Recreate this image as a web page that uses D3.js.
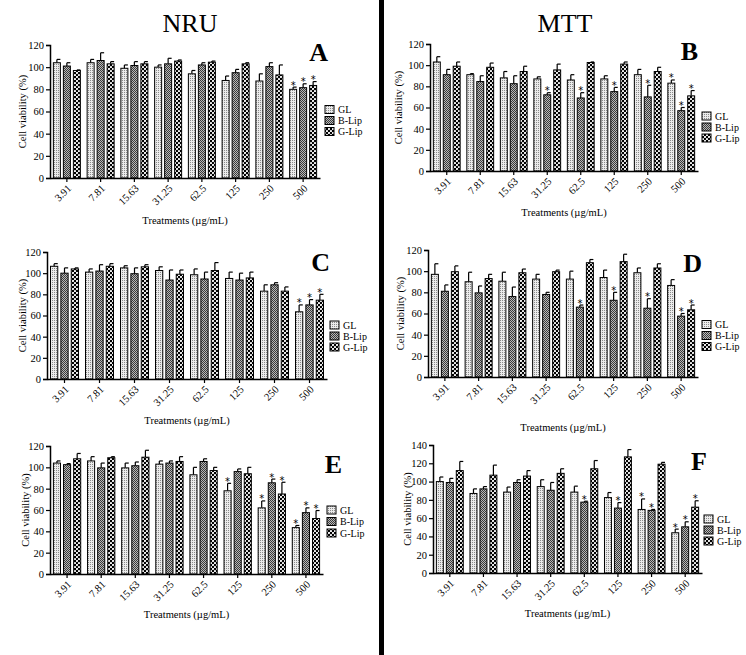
<!DOCTYPE html>
<html>
<head>
<meta charset="utf-8">
<script src="https://cdn.jsdelivr.net/npm/d3@7"></script>
<style>
  body { margin: 0; background: #fff; }
  svg text { font-family: "Liberation Serif", "DejaVu Serif", serif; fill: #000; }
</style>
</head>
<body>
<div id="chart"></div>
<script>
// categories & series
var doses = ["3.91", "7.81", "15.63", "31.25", "62.5", "125", "250", "500"];
var series = ["GL", "B-Lip", "G-Lip"];

// Panel A (NRU)  rows: GL, B-Lip, G-Lip
var aMean = [[104, 104, 99, 100, 94, 88, 87.5, 80],
             [101, 106, 101.5, 103, 102, 95, 100.5, 81.5],
             [97, 103, 103, 105.5, 104.5, 103, 93, 83.5]];
var aErr  = [[3, 3, 3, 2, 3, 4, 6.5, 2],
             [3, 7, 3.5, 5, 2, 3, 3.5, 3.5],
             [0.5, 2, 2, 1, 1, 1, 9, 3.5]];
var aSig  = [[0, 0, 0, 0, 0, 0, 0, 1],
             [0, 0, 0, 0, 0, 0, 0, 1],
             [0, 0, 0, 0, 0, 0, 0, 1]];

// Panel B (MTT)
var bMean = [[103, 91, 88, 87, 86, 87, 91, 83],
             [91, 84.5, 82.5, 72, 69, 75, 70, 57],
             [99, 98, 94, 95.5, 102.5, 101, 94, 71]];
var bErr  = [[5, 1, 6, 2, 5, 3, 5, 3],
             [5, 5.5, 7.5, 2, 5, 4, 11, 3],
             [4, 4, 5, 5.5, 0.5, 2, 4, 5]];
var bSig  = [[0, 0, 0, 0, 0, 0, 0, 1],
             [0, 0, 0, 1, 1, 1, 1, 1],
             [0, 0, 0, 0, 0, 0, 0, 1]];

// Panel C (NRU)
var cMean = [[106.5, 101, 105, 102.5, 98.5, 95, 83, 63.5],
             [100, 102, 99.5, 93.5, 94.5, 93.5, 89, 70],
             [104, 106.5, 106, 99, 102.5, 95.5, 83, 74.5]];
var cErr  = [[2.5, 3, 2, 3.5, 5.5, 6, 6, 6.5],
             [5, 6, 5.5, 9.5, 6.5, 6.5, 2, 5],
             [1, 2.5, 2, 4, 7.5, 5.5, 4, 5.5]];
var cSig  = [[0, 0, 0, 0, 0, 0, 0, 1],
             [0, 0, 0, 0, 0, 0, 0, 1],
             [0, 0, 0, 0, 0, 0, 0, 1]];

// Panel D (MTT)
var dMean = [[97, 90, 90.5, 92.5, 92.5, 94, 98.5, 86.5],
             [81, 79.5, 76, 78, 66, 72.5, 65, 57.5],
             [99.5, 93, 98.5, 99.5, 108, 109, 103, 63.5]];
var dErr  = [[10, 9, 8.5, 4.5, 7.5, 7, 4.5, 5.5],
             [6, 6.5, 9, 2, 2, 7.5, 9, 2.5],
             [5.5, 4, 3.5, 1.5, 3, 7, 4, 4.5]];
var dSig  = [[0, 0, 0, 0, 0, 0, 0, 0],
             [0, 0, 0, 0, 1, 1, 1, 1],
             [0, 0, 0, 0, 0, 0, 0, 1]];

// Panel E (NRU)
var eMean = [[104, 106, 99.5, 103, 93, 78, 62, 43.5],
             [102.5, 99.5, 101.5, 104, 105.5, 96, 85.5, 57.5],
             [108, 109, 109.5, 105.5, 97, 94, 75, 52]];
var eErr  = [[2, 4, 4.5, 3, 7, 7, 6.5, 2],
             [1, 4.5, 3.5, 2, 2.5, 2.5, 3.5, 4.5],
             [5, 1, 6.5, 4.5, 3, 6, 11, 7.5]];
var eSig  = [[0, 0, 0, 0, 0, 1, 1, 1],
             [0, 0, 0, 0, 0, 0, 1, 1],
             [0, 0, 0, 0, 0, 0, 1, 1]];

// Panel F (MTT)
var fMean = [[100, 87, 88.5, 94.5, 88.5, 82.5, 69.5, 44],
             [99, 92, 99, 90.5, 77.5, 71, 68.5, 50.5],
             [112, 107, 106, 109, 114, 127, 119, 72]];
var fErr  = [[5, 5, 5.5, 7.5, 6.5, 5.5, 11.5, 4],
             [4.5, 2.5, 3, 8.5, 1, 6, 1, 5.5],
             [10, 11, 6, 5, 9, 8, 2, 7]];
var fSig  = [[0, 0, 0, 0, 0, 0, 1, 1],
             [0, 0, 0, 0, 1, 1, 1, 1],
             [0, 0, 0, 0, 0, 0, 0, 1]];

var yTicks120 = [0, 20, 40, 60, 80, 100, 120];
var yTicks140 = [0, 20, 40, 60, 80, 100, 120, 140];

// layout for each panel
var panels = [
  {id: "A", mean: aMean, err: aErr, sig: aSig, left: 50, right: 320, y0: 178, yTop: 45, ticks: yTicks120,
   legX: 325, legY: 109.5, legStep: 11, letX: 328, letY: 61, titleY: 224, ylabX: 22},
  {id: "B", mean: bMean, err: bErr, sig: bSig, left: 430, right: 698, y0: 171, yTop: 44, ticks: yTicks120,
   legX: 702, legY: 116, legStep: 11, letX: 698, letY: 60, titleY: 216, ylabX: 398},
  {id: "C", mean: cMean, err: cErr, sig: cSig, left: 47, right: 327, y0: 379, yTop: 252, ticks: yTicks120,
   legX: 330, legY: 325, legStep: 11, letX: 330, letY: 271, titleY: 424, ylabX: 22},
  {id: "D", mean: dMean, err: dErr, sig: dSig, left: 428, right: 698, y0: 377, yTop: 250, ticks: yTicks120,
   legX: 702, legY: 324.5, legStep: 11, letX: 702, letY: 272, titleY: 431, ylabX: 400},
  {id: "E", mean: eMean, err: eErr, sig: eSig, left: 50, right: 323, y0: 574, yTop: 446, ticks: yTicks120,
   legX: 327, legY: 510, legStep: 11.5, letX: 342, letY: 473, titleY: 618, ylabX: 25},
  {id: "F", mean: fMean, err: fErr, sig: fSig, left: 433, right: 702, y0: 573, yTop: 445, ticks: yTicks140,
   legX: 704, legY: 519, legStep: 11, letX: 707, letY: 470, titleY: 617, ylabX: 407}
];

var svgWidth = 746;
var svgHeight = 655;

var svg = d3.select("#chart")
  .append("svg")
  .attr("width", svgWidth)
  .attr("height", svgHeight);

// fill patterns
var defs = svg.append("defs");

var p0 = defs.append("pattern").attr("id", "pat0")
  .attr("patternUnits", "userSpaceOnUse").attr("width", 2).attr("height", 2);
p0.append("rect").attr("width", 2).attr("height", 2).attr("fill", "#ebebeb");
p0.append("rect").attr("width", 1).attr("height", 1).attr("fill", "#8a8a8a");

var p1 = defs.append("pattern").attr("id", "pat1")
  .attr("patternUnits", "userSpaceOnUse").attr("width", 2).attr("height", 2);
p1.append("rect").attr("width", 2).attr("height", 2).attr("fill", "#b8b8b8");
p1.append("rect").attr("width", 1).attr("height", 1).attr("fill", "#3a3a3a");
p1.append("rect").attr("x", 1).attr("y", 1).attr("width", 1).attr("height", 1).attr("fill", "#3a3a3a");

var p2 = defs.append("pattern").attr("id", "pat2")
  .attr("patternUnits", "userSpaceOnUse").attr("width", 4).attr("height", 4);
p2.append("rect").attr("width", 4).attr("height", 4).attr("fill", "#000");
p2.append("circle").attr("cx", 1).attr("cy", 1).attr("r", 1.1).attr("fill", "#fff");
p2.append("circle").attr("cx", 3).attr("cy", 3).attr("r", 1.1).attr("fill", "#fff");

var fills = ["url(#pat0)", "url(#pat1)", "url(#pat2)"];

// headings + separator
svg.append("text").attr("x", 190).attr("y", 32).attr("text-anchor", "middle")
  .style("font-size", "26px").text("NRU");
svg.append("text").attr("x", 565).attr("y", 32).attr("text-anchor", "middle")
  .style("font-size", "26px").text("MTT");
svg.append("rect").attr("x", 379).attr("y", 0).attr("width", 5).attr("height", svgHeight).attr("fill", "#000");

panels.forEach(function(p) {
  var g = svg.append("g");

  var x0 = d3.scaleBand()
    .domain(doses)
    .range([p.left, p.right])
    .paddingInner(0.2)
    .paddingOuter(0.1);

  var x1 = d3.scaleBand()
    .domain(d3.range(series.length))
    .range([0, x0.bandwidth()])
    .paddingInner(0.3);

  var yTopVal = p.ticks[p.ticks.length - 1];
  var y = d3.scaleLinear()
    .domain([0, yTopVal])
    .range([p.y0, p.yTop]);

  // bars
  series.forEach(function(s, si) {
    var rows = doses.map(function(d, i) {
      return {dose: d, v: p.mean[si][i], e: p.err[si][i], sig: p.sig[si][i]};
    });
    var sg = g.append("g");
    var cx = d => x0(d.dose) + x1(si) + x1.bandwidth() / 2;

    // error bars (upper only)
    sg.selectAll(".eb")
      .data(rows)
      .enter()
      .append("line")
      .attr("class", "eb")
      .attr("x1", cx)
      .attr("x2", cx)
      .attr("y1", d => y(d.v))
      .attr("y2", d => y(d.v + d.e))
      .attr("stroke", "#000")
      .attr("stroke-width", 1.2);

    sg.selectAll(".cap")
      .data(rows)
      .enter()
      .append("line")
      .attr("class", "cap")
      .attr("x1", cx)
      .attr("x2", d => cx(d) + x1.bandwidth() / 2)
      .attr("y1", d => y(d.v + d.e))
      .attr("y2", d => y(d.v + d.e))
      .attr("stroke", "#000")
      .attr("stroke-width", 1.2);

    sg.selectAll(".bar")
      .data(rows)
      .enter()
      .append("rect")
      .attr("class", "bar")
      .attr("x", d => x0(d.dose) + x1(si))
      .attr("y", d => y(d.v))
      .attr("width", x1.bandwidth())
      .attr("height", d => p.y0 - y(d.v))
      .attr("fill", fills[si])
      .attr("stroke", "#000")
      .attr("stroke-width", 1);

    // asterisks
    sg.selectAll(".star")
      .data(rows.filter(d => d.sig === 1))
      .enter()
      .append("text")
      .attr("class", "star")
      .attr("x", cx)
      .attr("y", d => y(d.v + d.e) + 1.5)
      .attr("text-anchor", "middle")
      .style("font-family", "'DejaVu Sans', sans-serif")
      .style("font-size", "10px")
      .text("*");
  });

  // y axis
  var leftAxis = d3.axisLeft(y).tickValues(p.ticks).tickSize(4).tickPadding(2).tickFormat(d3.format("d"));
  var yAxis = g.append("g")
    .attr("transform", `translate(${p.left}, 0)`)
    .call(leftAxis);
  yAxis.select(".domain").attr("stroke-width", 1.5);
  yAxis.selectAll(".tick line").attr("stroke-width", 1.2);
  yAxis.selectAll("text").style("font-size", "10.5px");

  // x axis
  var bottomAxis = d3.axisBottom(x0).tickSize(4).tickSizeOuter(0);
  var xAxis = g.append("g")
    .attr("transform", `translate(0, ${p.y0})`)
    .call(bottomAxis);
  xAxis.select(".domain").attr("stroke-width", 1.5);
  xAxis.selectAll(".tick line").attr("stroke-width", 1.2);
  xAxis.selectAll("text")
    .style("font-size", "10.5px")
    .attr("text-anchor", "end")
    .attr("dy", null)
    .attr("y", 0)
    .attr("transform", "translate(5, 11) rotate(-45)");

  // axis titles
  g.append("text")
    .attr("x", (p.left + p.right) / 2)
    .attr("y", p.titleY)
    .attr("text-anchor", "middle")
    .style("font-size", "10.5px")
    .text("Treatments (µg/mL)");

  g.append("text")
    .attr("transform", `translate(${p.ylabX}, ${(p.y0 + p.yTop) / 2}) rotate(-90)`)
    .attr("text-anchor", "middle")
    .attr("dy", "0.35em")
    .style("font-size", "10.5px")
    .text("Cell viability (%)");

  // panel letter
  g.append("text")
    .attr("x", p.letX)
    .attr("y", p.letY)
    .attr("text-anchor", "end")
    .style("font-size", "26px")
    .style("font-weight", "bold")
    .text(p.id);

  // legend
  var leg = g.append("g");
  series.forEach(function(s, si) {
    var ly = p.legY + si * p.legStep;
    leg.append("rect")
      .attr("x", p.legX)
      .attr("y", ly - 4)
      .attr("width", 9)
      .attr("height", 8)
      .attr("fill", fills[si])
      .attr("stroke", "#000")
      .attr("stroke-width", 1);
    leg.append("text")
      .attr("x", p.legX + 13)
      .attr("y", ly)
      .attr("dy", "0.35em")
      .style("font-size", "10px")
      .text(s);
  });
});
</script>
</body>
</html>
